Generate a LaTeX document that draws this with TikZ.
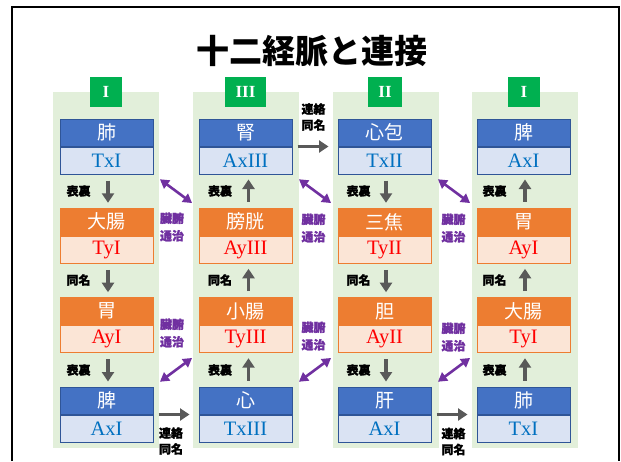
\documentclass[tikz,border=0pt]{standalone}
\usepackage{fontspec}
\setmainfont{Liberation Serif}
\newfontfamily\cjk{Noto Sans CJK JP}
\newfontfamily\cjkh[BoldFeatures={FakeBold=1.2}]{Noto Sans CJK JP}
\usetikzlibrary{arrows.meta}
\definecolor{bhdrc}{HTML}{4472C4}
\definecolor{bsubc}{HTML}{DAE3F3}
\definecolor{bbrd}{HTML}{2F5597}
\definecolor{btxt}{HTML}{0070C0}
\definecolor{ohdrc}{HTML}{ED7D31}
\definecolor{osubc}{HTML}{FBE5D6}
\definecolor{otxt}{HTML}{FF0000}
\definecolor{badgec}{HTML}{00B050}
\definecolor{bgc}{HTML}{E2EFDA}
\definecolor{purp}{HTML}{7030A0}
\definecolor{garr}{HTML}{595959}
\newcommand\organ[6]{%
  \node[#4hdr] (#1h) at (#2,#3) {#5};
  \node[#4sub, anchor=north] (#1s) at (#1h.south) {#6};
}
\begin{document}
\begin{tikzpicture}[x=1pt,y=-1pt,
  box/.style={minimum width=93pt,minimum height=27pt,inner sep=0pt,line width=1pt},
  bhdr/.style={box,fill=bhdrc,draw=bbrd,text=white,font=\cjk\fontsize{19}{19}\selectfont},
  bsub/.style={box,fill=bsubc,draw=bbrd,text=btxt,font=\fontsize{20.5}{20.5}\selectfont},
  ohdr/.style={box,fill=ohdrc,draw=ohdrc,text=white,font=\cjk\fontsize{19}{19}\selectfont},
  osub/.style={box,fill=osubc,draw=ohdrc,text=otxt,font=\fontsize{20.5}{20.5}\selectfont},
  colbg/.style={fill=bgc,draw=none,minimum width=106pt,minimum height=356pt,inner sep=0pt},
  badge/.style={fill=badgec,text=white,minimum width=32pt,minimum height=30pt,inner xsep=10.5pt,inner ysep=0pt,font=\bfseries\fontsize{17}{17}\selectfont},
  varr/.style={garr,line width=3.8pt,-{Triangle[width=12pt,length=9.5pt]},shorten <=6pt,shorten >=5pt},
  harr/.style={garr,line width=3.8pt,-{Triangle[width=12pt,length=9.5pt]},shorten <=5pt,shorten >=9pt},
  parr/.style={purp,line width=2.6pt,{Triangle[width=10pt,length=9pt]}-{Triangle[width=10pt,length=9pt]},shorten <=8pt,shorten >=8pt},
  lbl/.style={font=\cjkh\bfseries\fontsize{12}{16}\selectfont,inner sep=0pt,align=center},
  plbl/.style={lbl,text=purp,font=\cjkh\bfseries\fontsize{12}{17.5}\selectfont}
]
\useasboundingbox (0,0) rectangle (621,461);
\fill[white] (0,0) rectangle (621,461);
\draw[line width=2.5pt] (12,461) -- (12,7) -- (619,7) -- (619,461);
\node[font=\cjk\bfseries\fontsize{33}{33}\selectfont,inner sep=0pt] (title) at (312,51) {十二経脈と連接};
% column backgrounds
\node[colbg] (bg1) at (105.5,270) {};
\node[colbg] (bg2) at (245.5,270) {};
\node[colbg] (bg3) at (385.5,270) {};
\node[colbg] (bg4) at (524.5,270) {};
\node[badge] (b1) at (106,92) {I};
\node[badge] (b2) at (245.5,92) {III};
\node[badge] (b3) at (385,92) {II};
\node[badge] (b4) at (524,92) {I};
% column 1
\organ{c1r1}{106.5}{132.5}{b}{肺}{TxI}
\organ{c1r2}{106.5}{221.8}{o}{大腸}{TyI}
\organ{c1r3}{106.5}{311.2}{o}{胃}{AyI}
\organ{c1r4}{106.5}{400.5}{b}{脾}{AxI}
% column 2
\organ{c2r1}{245.5}{132.5}{b}{腎}{AxIII}
\organ{c2r2}{245.5}{221.8}{o}{膀胱}{AyIII}
\organ{c2r3}{245.5}{311.2}{o}{小腸}{TyIII}
\organ{c2r4}{245.5}{400.5}{b}{心}{TxIII}
% column 3
\organ{c3r1}{384.5}{132.5}{b}{心包}{TxII}
\organ{c3r2}{384.5}{221.8}{o}{三焦}{TyII}
\organ{c3r3}{384.5}{311.2}{o}{胆}{AyII}
\organ{c3r4}{384.5}{400.5}{b}{肝}{AxI}
% column 4
\organ{c4r1}{523.5}{132.5}{b}{脾}{AxI}
\organ{c4r2}{523.5}{221.8}{o}{胃}{AyI}
\organ{c4r3}{523.5}{311.2}{o}{大腸}{TyI}
\organ{c4r4}{523.5}{400.5}{b}{肺}{TxI}
% vertical arrows
\draw[varr] ([xshift=1.5pt]c1r1s.south) -- ([xshift=1.5pt]c1r2h.north);
\draw[varr] ([xshift=1.5pt]c1r2s.south) -- ([xshift=1.5pt]c1r3h.north);
\draw[varr] ([xshift=1.5pt]c1r3s.south) -- ([xshift=1.5pt]c1r4h.north);
\draw[varr] ([xshift=3pt]c2r2h.north) -- ([xshift=3pt]c2r1s.south);
\draw[varr] ([xshift=3pt]c2r3h.north) -- ([xshift=3pt]c2r2s.south);
\draw[varr] ([xshift=3pt]c2r4h.north) -- ([xshift=3pt]c2r3s.south);
\draw[varr] ([xshift=1.5pt]c3r1s.south) -- ([xshift=1.5pt]c3r2h.north);
\draw[varr] ([xshift=1.5pt]c3r2s.south) -- ([xshift=1.5pt]c3r3h.north);
\draw[varr] ([xshift=1.5pt]c3r3s.south) -- ([xshift=1.5pt]c3r4h.north);
\draw[varr] ([xshift=1.5pt]c4r2h.north) -- ([xshift=1.5pt]c4r1s.south);
\draw[varr] ([xshift=1.5pt]c4r3h.north) -- ([xshift=1.5pt]c4r2s.south);
\draw[varr] ([xshift=1.5pt]c4r4h.north) -- ([xshift=1.5pt]c4r3s.south);
% vertical labels
\node[lbl] (l11) at (78.5,191) {表裏};
\node[lbl] (l12) at (78.5,280) {同名};
\node[lbl] (l13) at (78.5,370) {表裏};
\node[lbl] (l21) at (220,191) {表裏};
\node[lbl] (l22) at (220,280) {同名};
\node[lbl] (l23) at (220,370) {表裏};
\node[lbl] (l31) at (358.5,191) {表裏};
\node[lbl] (l32) at (358.5,280) {同名};
\node[lbl] (l33) at (358.5,370) {表裏};
\node[lbl] (l41) at (494.5,191) {表裏};
\node[lbl] (l42) at (494.5,280) {同名};
\node[lbl] (l43) at (494.5,370) {表裏};
% purple double arrows
\draw[parr] (c1r1s.south east) -- (c2r2h.north west);
\draw[parr] (c1r4h.north east) -- (c2r3s.south west);
\draw[parr] (c2r1s.south east) -- (c3r2h.north west);
\draw[parr] (c2r4h.north east) -- (c3r3s.south west);
\draw[parr] (c3r1s.south east) -- (c4r2h.north west);
\draw[parr] (c3r4h.north east) -- (c4r3s.south west);
\node[plbl] (p1) at (172,227) {臓腑\\通治};
\node[plbl] (p2) at (172,333) {臓腑\\通治};
\node[plbl] (p3) at (313.5,228) {臓腑\\通治};
\node[plbl] (p4) at (313.5,336) {臓腑\\通治};
\node[plbl] (p5) at (453.5,228) {臓腑\\通治};
\node[plbl] (p6) at (453.5,337) {臓腑\\通治};
% gray horizontal arrows
\draw[harr] (c1r4h.south east) -- (c2r4h.south west);
\draw[harr] (c2r1h.south east) -- (c3r1h.south west);
\draw[harr] (c3r4h.south east) -- (c4r4h.south west);
\node[lbl] (h1) at (171,441) {連絡\\同名};
\node[lbl] (h2) at (313.5,117) {連絡\\同名};
\node[lbl] (h3) at (453.5,441.5) {連絡\\同名};
\end{tikzpicture}
\end{document}
